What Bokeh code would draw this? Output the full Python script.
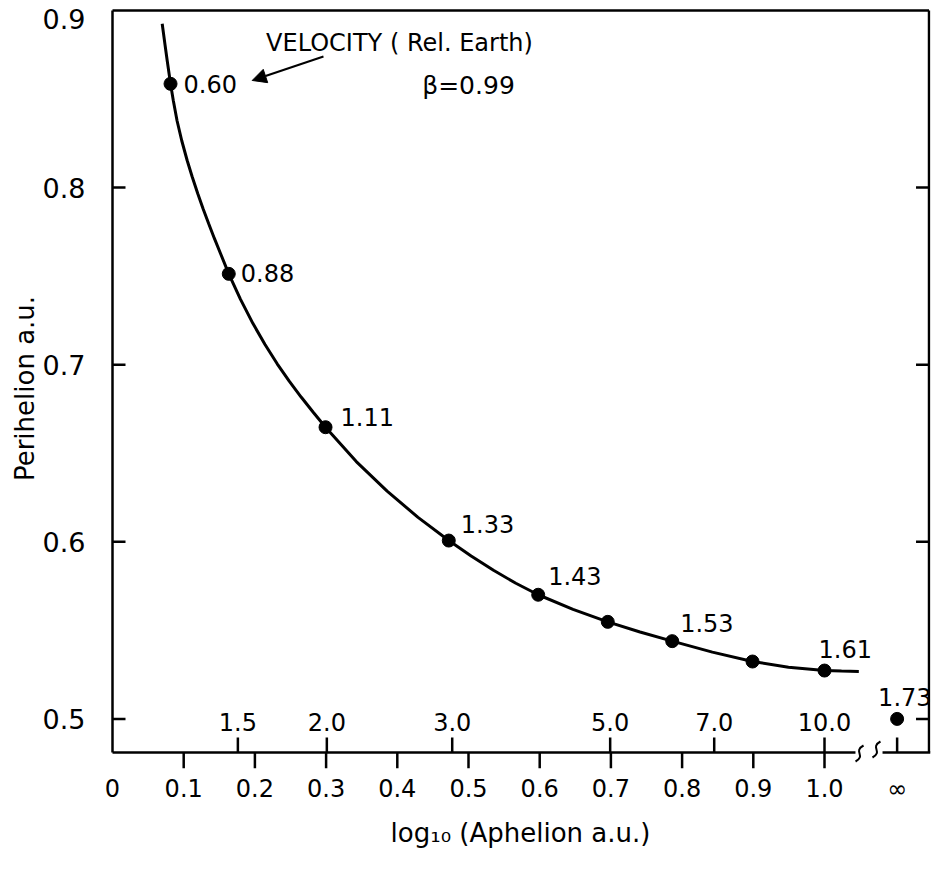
import numpy as np
from bokeh.plotting import figure
from bokeh.models import FixedTicker, Label, Arrow, NormalHead, ColumnDataSource
from bokeh.core.properties import value
from bokeh.embed import file_html
from bokeh.resources import INLINE

# ---------------- data ----------------
# measured points: x = log10(aphelion a.u.), y = perihelion a.u., label = velocity rel. Earth
log_aphelion = [0.0815, 0.1633, 0.2992, 0.4723, 0.5979, 0.6956, 0.7861, 0.8989, 1.0000]
perihelion = [0.8586, 0.7513, 0.6647, 0.6007, 0.5701, 0.5548, 0.5439, 0.5324, 0.5273]
velocity = [0.60, 0.88, 1.11, 1.33, 1.43, None, 1.53, None, 1.61]

# the point at infinite aphelion, drawn after the axis break
inf_x = 1.102
inf_perihelion = 0.500
inf_velocity = 1.73

# the smooth curve drawn through the points
curve_log_aphelion = [0.0698, 0.0739, 0.0768, 0.0815, 0.0854, 0.0906, 0.0972, 0.1049,
                      0.1118, 0.1197, 0.1271, 0.1350, 0.1431, 0.1517, 0.1633, 0.1798,
                      0.1973, 0.2142, 0.2313, 0.2482, 0.2652, 0.2822, 0.2992, 0.3424,
                      0.3857, 0.4291, 0.4723, 0.5037, 0.5351, 0.5665, 0.5979, 0.6468,
                      0.6956, 0.7409, 0.7861, 0.8425, 0.8989, 0.9494, 1.0000, 1.0239,
                      1.0482]
curve_perihelion = [0.8925, 0.8802, 0.8718, 0.8586, 0.8492, 0.8379, 0.8266, 0.8153,
                    0.8063, 0.7967, 0.7882, 0.7797, 0.7713, 0.7628, 0.7513, 0.7369,
                    0.7232, 0.7114, 0.7005, 0.6907, 0.6816, 0.6730, 0.6647, 0.6453,
                    0.6286, 0.6138, 0.6007, 0.5920, 0.5839, 0.5766, 0.5701, 0.5618,
                    0.5548, 0.5491, 0.5439, 0.5377, 0.5324, 0.5292, 0.5273, 0.5270,
                    0.5268]

# ticks
y_ticks = [0.5, 0.6, 0.7, 0.8]
y_tick_labels = ["0.5", "0.6", "0.7", "0.8"]
y_top = 0.9
y_top_label = "0.9"
x_ticks = [0.0, 0.1, 0.2, 0.3, 0.4, 0.5, 0.6, 0.7, 0.8, 0.9, 1.0]
x_tick_labels = ["0", "0.1", "0.2", "0.3", "0.4", "0.5", "0.6", "0.7", "0.8", "0.9", "1.0"]
inf_tick_label = "\u221e"
aphelion_ticks = [1.5, 2.0, 3.0, 5.0, 7.0, 10.0]
aphelion_tick_labels = ["1.5", "2.0", "3.0", "5.0", "7.0", "10.0"]

# ---------------- layout / style ----------------
FONT = "DejaVu Sans"
PXX = 712.0          # pixels per unit of x
PXY = 1771.0         # pixels per unit of y
FW, FH = 820, 760
X_START = -2 / PXX
X_END = X_START + FW / PXX
Y_END = y_top + 2 / PXY
Y_START = Y_END - FH / PXY
Y_AX = y_top - 742 / PXY          # drawn bottom axis line
X_RIGHT = 1.1468                  # right frame line
BREAK_L, BREAK_R = 1.0435, 1.0815
LW = 2.5
TOP_LABEL_Y = y_top - 8 / PXY     # where the "0.9" label sits in the reference

p = figure(frame_width=FW, frame_height=FH, x_range=(X_START, X_END), y_range=(Y_START, Y_END),
           output_backend="svg", toolbar_location=None,
           min_border_left=110, min_border_right=2, min_border_top=8, min_border_bottom=101)
p.xgrid.visible = False
p.ygrid.visible = False
p.outline_line_color = None
p.background_fill_color = "white"
p.border_fill_color = "white"

# left axis: labels only (line and ticks drawn below as glyphs)
ya = p.yaxis[0]
yl_pos = y_ticks + [TOP_LABEL_Y]
ya.ticker = FixedTicker(ticks=yl_pos)
ya.major_label_overrides = dict(zip(yl_pos, y_tick_labels + [y_top_label]))
ya.major_tick_line_color = None
ya.minor_tick_line_color = None
ya.major_tick_in = 0
ya.major_tick_out = 0
ya.axis_line_color = None
ya.major_label_standoff = 25
ya.major_label_text_font = FONT
ya.major_label_text_font_size = "27px"
ya.major_label_text_color = "black"
ya.axis_label = "Perihelion a.u."
ya.axis_label_text_font = FONT
ya.axis_label_text_font_size = "26px"
ya.axis_label_text_font_style = "normal"
ya.axis_label_text_color = "black"
ya.axis_label_standoff = 0

# bottom axis: labels only
xa = p.xaxis[0]
xl_pos = x_ticks + [inf_x]
xa.ticker = FixedTicker(ticks=xl_pos)
xa.major_label_overrides = dict(zip(xl_pos, x_tick_labels + [inf_tick_label]))
xa.major_tick_line_color = None
xa.minor_tick_line_color = None
xa.major_tick_in = 0
xa.major_tick_out = 0
xa.axis_line_color = None
xa.major_label_standoff = 6
xa.major_label_text_font = FONT
xa.major_label_text_font_size = "24px"
xa.major_label_text_color = "black"
xa.axis_label = "log\u2081\u2080 (Aphelion a.u.)"
xa.axis_label_text_font = FONT
xa.axis_label_text_font_size = "26px"
xa.axis_label_text_font_style = "normal"
xa.axis_label_text_color = "black"
xa.axis_label_standoff = 12

# frame lines: left, top, right, and the broken bottom line
p.segment(x0=[0, 0, X_RIGHT], y0=[Y_AX, y_top, Y_AX], x1=[0, X_RIGHT, X_RIGHT],
          y1=[y_top, y_top, y_top], line_color="black", line_width=LW)
p.segment(x0=[0, BREAK_R], y0=[Y_AX, Y_AX], x1=[BREAK_L, X_END], y1=[Y_AX, Y_AX],
          line_color="black", line_width=LW)
n = len(y_ticks)
# inward ticks on left and right
p.segment(x0=[0] * n + [X_RIGHT - 13 / PXX] * n, y0=y_ticks * 2,
          x1=[13 / PXX] * n + [X_RIGHT] * n, y1=y_ticks * 2, line_color="black", line_width=LW)
# downward ticks for log10 values
down_x = x_ticks[1:]
p.segment(x0=down_x, y0=[Y_AX] * len(down_x), x1=down_x, y1=[Y_AX - 16 / PXY] * len(down_x),
          line_color="black", line_width=LW)
# upward ticks for aphelion values and for infinity
up_x = list(np.log10(aphelion_ticks)) + [inf_x]
p.segment(x0=up_x, y0=[Y_AX] * len(up_x), x1=up_x, y1=[Y_AX + 15 / PXY] * len(up_x),
          line_color="black", line_width=LW)
p.text(x=list(np.log10(aphelion_ticks)), y=[Y_AX] * len(aphelion_ticks),
       text=aphelion_tick_labels, y_offset=-31, text_align="center", text_baseline="middle",
       text_font=value(FONT), text_font_size="24px", text_color="black")

# axis-break squiggles (two small S shapes)
sq_cx = [1.0492, 1.0730]
sq_cy = [Y_AX - 1 / PXY, Y_AX + 3 / PXY]
p.bezier(x0=[c - 4 / PXX for c in sq_cx], y0=[c - 8 / PXY for c in sq_cy],
         x1=[c + 4 / PXX for c in sq_cx], y1=[c + 8 / PXY for c in sq_cy],
         cx0=[c + 7 / PXX for c in sq_cx], cy0=[c - 2 / PXY for c in sq_cy],
         cx1=[c - 7 / PXX for c in sq_cx], cy1=[c + 2 / PXY for c in sq_cy],
         line_color="black", line_width=2)

# curve and points
p.line(curve_log_aphelion, curve_perihelion, line_color="black", line_width=3)
p.scatter(log_aphelion + [inf_x], perihelion + [inf_perihelion], size=13,
          fill_color="black", line_color="black")

# point labels
lab_x, lab_y, lab_t = [], [], []
for xv, yv, v in zip(log_aphelion + [inf_x], perihelion + [inf_perihelion], velocity + [inf_velocity]):
    if v is not None:
        lab_x.append(xv); lab_y.append(yv); lab_t.append(f"{v:.2f}")
dx = [13, 12, 15, 12, 10, 8, -6, -19]
dy = [0, -1, -10, -17, -19, -18, -22, -22]
src = ColumnDataSource(dict(x=lab_x, y=lab_y, t=lab_t, dx=dx, dy=dy))
p.text(x="x", y="y", text="t", x_offset="dx", y_offset="dy", source=src,
       text_align="left", text_baseline="middle", text_font=value(FONT),
       text_font_size="24px", text_color="black")

# annotation
p.add_layout(Label(x=0.4031, y=0.8819, text="VELOCITY ( Rel. Earth)", text_align="center",
                   text_baseline="middle", text_font=FONT, text_font_size="24px", text_color="black"))
p.add_layout(Label(x=0.500, y=0.8577, text="\u03b2=0.99", text_align="center",
                   text_baseline="middle", text_font=FONT, text_font_size="25px", text_color="black"))
p.add_layout(Arrow(end=NormalHead(size=14, fill_color="black", line_color="black"),
                   x_start=0.2963, y_start=0.8740, x_end=0.1962, y_end=0.8605,
                   line_color="black", line_width=2))

open("out.html", "w").write(file_html(p, INLINE))
